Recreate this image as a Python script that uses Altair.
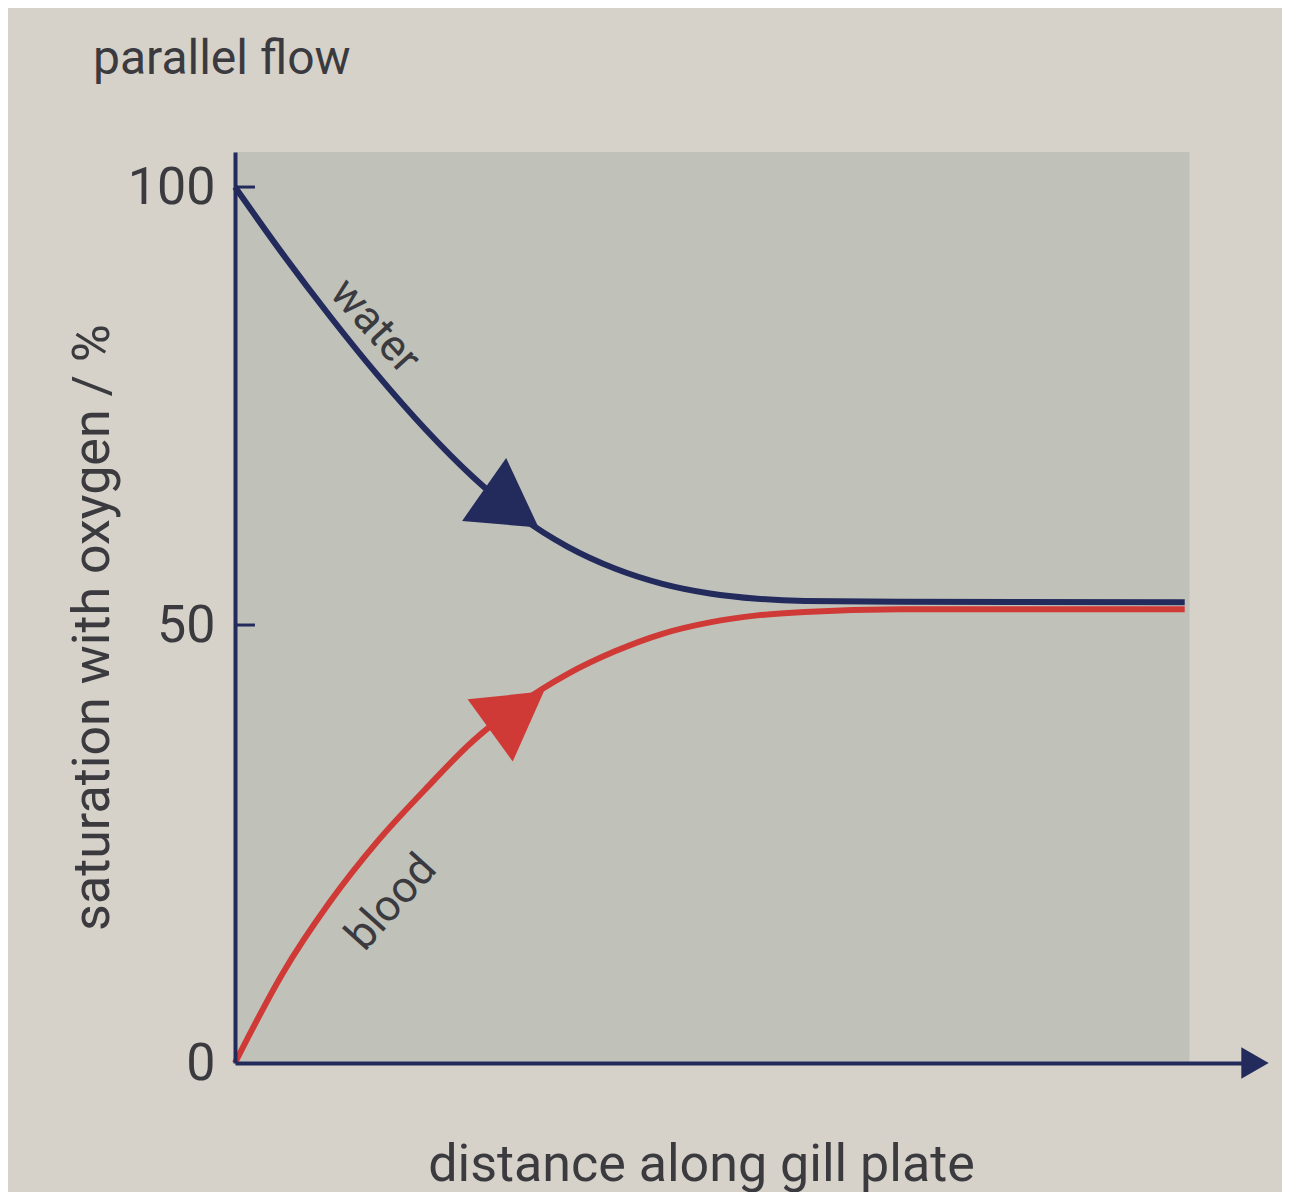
import altair as alt
import pandas as pd

# ---- data ----
water_x = [0, 5, 10, 15, 20, 25, 30, 35, 40, 45, 50, 55, 60, 70, 100]
water_y = [100, 92.4, 85.25, 78.55, 72.4, 66.95, 62.4, 58.95, 56.45, 54.7, 53.6, 53.0, 52.75, 52.65, 52.6]
blood_x = [0, 5, 10, 15, 20, 25, 30, 35, 40, 45, 50, 55, 60, 70, 100]
blood_y = [0, 10.2, 18.4, 25.3, 31.2, 36.7, 41.0, 44.4, 47.0, 49.0, 50.3, 51.1, 51.5, 51.8, 51.8]

y_tick_values = [0, 50, 100]
inner_tick_values = [50, 100]

arrow_series = ["water", "blood"]
arrow_x = [29.1, 29.7]
arrow_y = [63.3, 40.2]
arrow_angle = [35, 324]

label_text = ["water", "blood"]
label_x = [14.7, 16.5]
label_y = [84.1, 18.3]
label_angle = [48, 312]

X_MAX = 107.4
Y_MAX = 104
PLOT_RIGHT = 100.5

NAVY = "#232a5c"
NAVY_ARROW = "#22397a"
RED = "#cf3a37"
TEXT = "#3a3a3f"
PAGE_BG = "#d6d2c9"
PLOT_BG = "#c0c2ba"
FONT = "Roboto"

curves = pd.DataFrame({
    "x": water_x + blood_x,
    "y": water_y + blood_y,
    "series": ["water"] * len(water_x) + ["blood"] * len(blood_x),
})
arrows = pd.DataFrame({"series": arrow_series, "x": arrow_x, "y": arrow_y, "angle": arrow_angle})
labels = pd.DataFrame({"text": label_text, "x": label_x, "y": label_y, "angle": label_angle})

xs = alt.Scale(domain=[0, X_MAX], nice=False, zero=False)
ys = alt.Scale(domain=[0, Y_MAX], nice=False, zero=False)
cs = alt.Scale(domain=["water", "blood"], range=[NAVY, RED])
cs_arrow = alt.Scale(domain=["water", "blood"], range=[NAVY_ARROW, RED])

x_axis = alt.Axis(
    ticks=False, labels=False, grid=False, zindex=1,
    domainColor=NAVY, domainWidth=4,
    title="distance along gill plate",
    titleFont=FONT, titleFontSize=52, titleFontWeight="normal", titleColor=TEXT,
    titleX=466, titleY=117, titleBaseline="alphabetic", titleAlign="center",
)
y_axis = alt.Axis(
    values=y_tick_values, ticks=False, grid=False, zindex=1,
    domainColor=NAVY, domainWidth=4,
    labelFont=FONT, labelFontSize=52, labelColor=TEXT, labelPadding=20,
    labelFlush=False, labelOverlap=False,
    title="saturation with oxygen / %",
    titleFont=FONT, titleFontSize=52, titleFontWeight="normal", titleColor=TEXT,
    titleX=-127, titleY=475, titleAngle=270, titleBaseline="alphabetic", titleAlign="center",
)


def X(field):
    return alt.X(field, scale=xs, axis=x_axis, title="distance along gill plate")


def Y(field):
    return alt.Y(field, scale=ys, axis=y_axis, title="saturation with oxygen / %")


bg = alt.Chart(pd.DataFrame({"x": [0], "x2": [PLOT_RIGHT], "y": [0], "y2": [Y_MAX]})).mark_rect(
    color=PLOT_BG
).encode(x=X("x:Q"), x2="x2:Q", y=Y("y:Q"), y2="y2:Q")

inner_ticks = alt.Chart(pd.DataFrame({"y": inner_tick_values, "x": [0] * len(inner_tick_values),
                                      "x2": [2.1] * len(inner_tick_values)})).mark_rule(
    color=NAVY, strokeWidth=3
).encode(x=X("x:Q"), x2="x2:Q", y=Y("y:Q"))

lines = alt.Chart(curves).mark_line(interpolate="monotone", strokeWidth=6, strokeCap="butt").encode(
    x=X("x:Q"),
    y=Y("y:Q"),
    color=alt.Color("series:N", scale=cs, legend=None),
    detail="series:N",
    order="x:Q",
)

arrow_marks = alt.Chart(arrows).mark_point(shape="triangle-right", filled=True, opacity=1, size=5900).encode(
    x=X("x:Q"),
    y=Y("y:Q"),
    color=alt.Color("series:N", scale=cs_arrow, legend=None),
    angle=alt.Angle("angle:Q", scale=None),
)

axis_head = alt.Chart(pd.DataFrame({"x": [X_MAX], "y": [0]})).mark_point(
    shape="triangle-right", filled=True, opacity=1, size=1000, color=NAVY
).encode(x=X("x:Q"), y=Y("y:Q"))

text_marks = alt.Chart(labels).mark_text(font=FONT, fontSize=44, color=TEXT, align="center", baseline="middle").encode(
    x=X("x:Q"),
    y=Y("y:Q"),
    text="text:N",
    angle=alt.Angle("angle:Q", scale=None),
)

chart = alt.layer(bg, inner_ticks, lines, arrow_marks, axis_head, text_marks).properties(
    width=1020,
    height=911,
    title=alt.TitleParams("parallel flow", anchor="start", frame="group", dx=-142, offset=30, font=FONT,
                          fontSize=48, fontWeight="normal", color=TEXT, baseline="alphabetic"),
    autosize=alt.AutoSizeParams(type="none"),
    padding={"left": 227, "top": 144, "right": 27, "bottom": 129},
    background=PAGE_BG,
).configure_view(stroke=None)

chart.save("out.html", embed_options={"renderer": "svg", "actions": False})
